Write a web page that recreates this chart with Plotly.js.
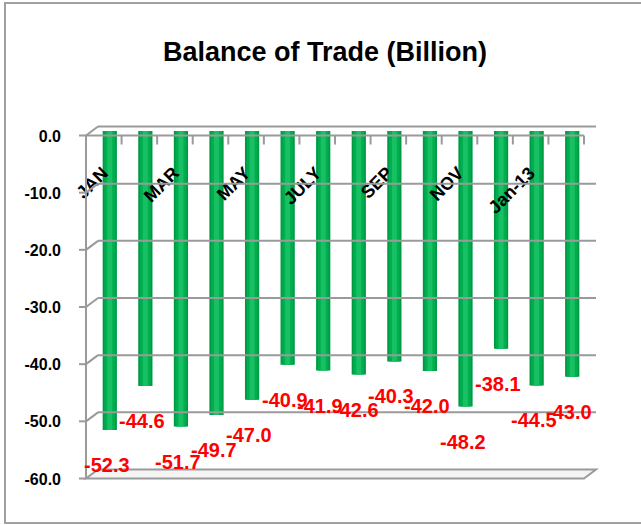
<!DOCTYPE html>
<html>
<head>
<meta charset="utf-8">
<script src="https://cdn.plot.ly/plotly-3.0.1.min.js"></script>
<style>
html,body{margin:0;padding:0;background:#fff;}
#chart{width:641px;height:525px;}
</style>
</head>
<body>
<div id="chart"></div>
<script>
// ---- data ----
const months = ["JAN","FEB","MAR","APR","MAY","JUNE","JULY","AUG","SEP","OCT","NOV","DEC","Jan-13","Feb-13"];
const balance = [-52.3,-44.6,-51.7,-49.7,-47.0,-40.9,-41.9,-42.6,-40.3,-42.0,-48.2,-38.1,-44.5,-43.0];
const shownMonths = ["JAN","MAR","MAY","JULY","SEP","NOV","Jan-13"];
const yTickVals = [0,-10,-20,-30,-40,-50,-60];
const yTickText = ["0.0","-10.0","-20.0","-30.0","-40.0","-50.0","-60.0"];

// ---- geometry of the pseudo-3D frame (plot area = middle depth plane) ----
const W = 641, H = 525;
const mL = 92, mR = 51, mT = 131, mB = 51;
const PW = W - mL - mR, PH = H - mT - mB;
const dx = 6 / PW, dy = 4.5 / PH;           // depth offset (paper units)
const ymin = -60, ymax = 0;
const vy = v => (v - ymin) / (ymax - ymin); // value -> paper y
const bx = X => (X - mL) / PW, by = Y => (H - mB - Y) / PH; // pixel -> paper
const GRID = '#9a9a9a';
const FONT = 'Liberation Sans, Arial, sans-serif';

const shapes = [];
// back-wall gridlines and left-wall connectors
yTickVals.forEach(v => {
  if (v === ymin) return;
  shapes.push({type:'line', xref:'paper', yref:'paper', x0:dx, x1:1+dx, y0:vy(v)+dy, y1:vy(v)+dy, line:{color:GRID, width:2}});
  shapes.push({type:'line', xref:'paper', yref:'paper', x0:-dx, x1:dx, y0:vy(v)-dy, y1:vy(v)+dy, line:{color:GRID, width:2}});
});
// floor slab
shapes.push({type:'path', xref:'paper', yref:'paper',
  path:`M ${-dx} ${-dy} L ${1-dx} ${-dy} L ${1+dx} ${dy} L ${dx} ${dy} Z`,
  fillcolor:'#f4f4f4', line:{color:GRID, width:2}});
// front vertical axis line + ticks
shapes.push({type:'line', xref:'paper', yref:'paper', x0:-dx, x1:-dx, y0:vy(ymax)-dy, y1:vy(ymin)-dy, line:{color:GRID, width:2}});
yTickVals.forEach(v => {
  shapes.push({type:'line', xref:'paper', yref:'paper', x0:-dx-7/PW, x1:-dx, y0:vy(v)-dy, y1:vy(v)-dy, line:{color:GRID, width:2}});
});
// front category axis line at zero with ticks between categories
shapes.push({type:'line', xref:'paper', yref:'paper', x0:-dx, x1:1-dx, y0:vy(0)-dy, y1:vy(0)-dy, line:{color:GRID, width:2}});
for (let k = 1; k <= months.length; k++) {
  const x = k / months.length - dx;
  shapes.push({type:'line', xref:'paper', yref:'paper', x0:x, x1:x, y0:vy(0)-dy, y1:vy(0)-dy-9/PH, line:{color:GRID, width:2}});
}
// outer chart border (top, left, bottom)
shapes.push({type:'path', xref:'paper', yref:'paper',
  path:`M ${bx(645)} ${by(3)} L ${bx(5)} ${by(3)} L ${bx(5)} ${by(523)} L ${bx(645)} ${by(523)}`,
  line:{color:'#a0a0a0', width:2}});

// data labels
const annotations = months.map((m, i) => ({
  x: m, y: balance[i], xref:'x', yref:'y',
  text: balance[i].toFixed(1), showarrow:false,
  xshift:-3, yshift:-35,
  font:{family:FONT, size:20, color:'#ff0000', weight:'bold'}
}));

// cylinder-like bars: layered bars of decreasing width
const layers = [
  {w:0.40, c:'#009a45'},
  {w:0.30, c:'#00ad4f'},
  {w:0.14, c:'#17c163'}
];
const traces = layers.map(L => ({
  type:'bar', x: months, y: balance, width: L.w,
  marker:{color:L.c, line:{width:0}},
  hoverinfo:'x+y', showlegend:false
}));

const layout = {
  width: W, height: H,
  margin:{l:mL, r:mR, t:mT, b:mB, pad:0},
  paper_bgcolor:'#ffffff', plot_bgcolor:'rgba(0,0,0,0)',
  barmode:'overlay',
  showlegend:false,
  title:{text:'Balance of Trade (Billion)', xref:'container', yref:'container',
    x:325/W, xanchor:'center', y:1-52/H, yanchor:'middle',
    font:{family:FONT, size:27, color:'#000', weight:'bold'}},
  xaxis:{type:'category', range:[-0.5, months.length-0.5],
    anchor:'free', position: by(158), side:'bottom',
    tickmode:'array', tickvals: shownMonths, ticktext: shownMonths,
    tickangle:-45, ticks:'', showline:false, showgrid:false, zeroline:false,
    ticklabelshift:-7,
    tickfont:{family:FONT, size:18, color:'#000', weight:'bold'}},
  yaxis:{range:[ymin, ymax], tickmode:'array', tickvals:yTickVals, ticktext:yTickText,
    ticks:'', showline:false, showgrid:false, zeroline:false,
    ticklabelshift:5, ticklabelstandoff:30,
    tickfont:{family:FONT, size:16, color:'#000', weight:'bold'}},
  shapes: shapes,
  annotations: annotations
};

Plotly.newPlot('chart', traces, layout, {displayModeBar:false, staticPlot:true});
</script>
</body>
</html>
